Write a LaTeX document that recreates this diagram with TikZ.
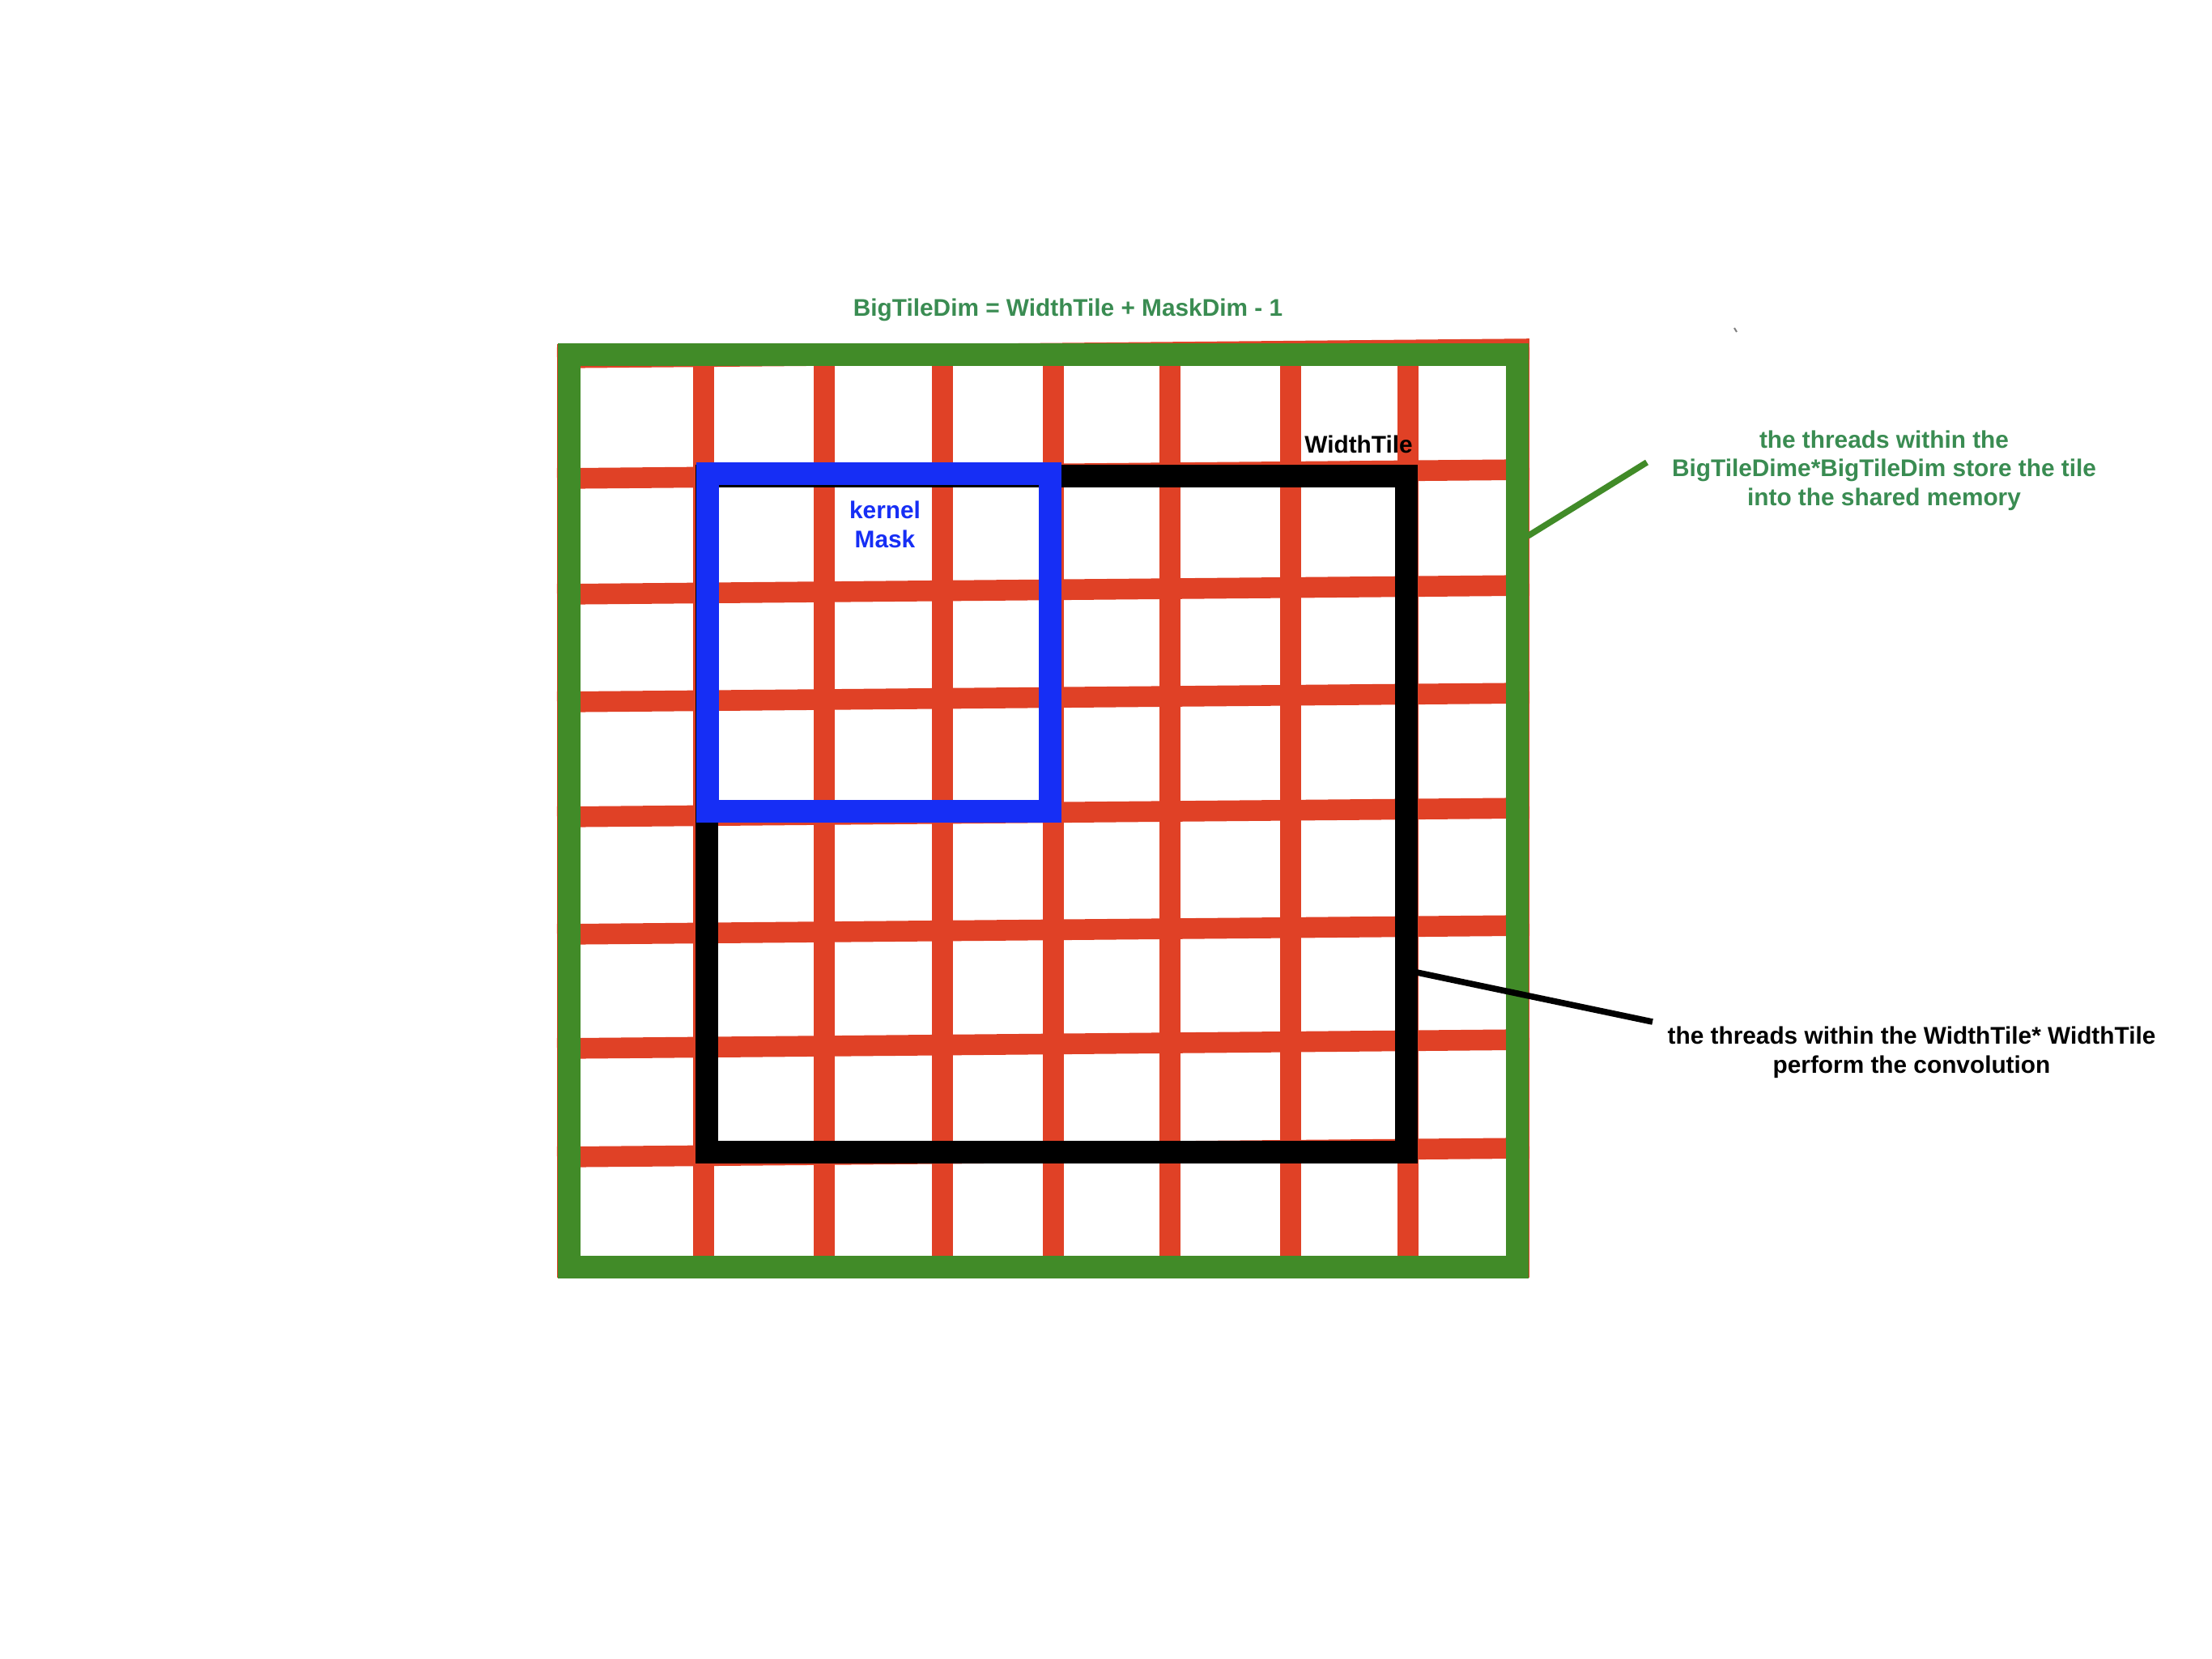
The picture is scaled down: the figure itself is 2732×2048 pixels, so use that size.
\documentclass[tikz,border=0pt]{standalone}
\usepackage{fontspec}
\setmainfont{Liberation Sans}
\definecolor{gridred}{RGB}{224,65,38}
\definecolor{framegreen}{RGB}{65,139,40}
\definecolor{maskblue}{RGB}{22,46,245}
\definecolor{notegreen}{RGB}{58,140,82}
\tikzset{
  gridline/.style={draw=gridred,line width=6.4pt},
  bigframe/.style={draw=framegreen,line width=6.8pt},
  tileframe/.style={draw=black,line width=6.8pt},
  maskframe/.style={draw=maskblue,line width=6.8pt},
  label/.style={font=\bfseries\fontsize{7.45}{8.9}\selectfont,inner sep=0pt,align=center}
}
\begin{document}
\begin{tikzpicture}[x=0.25pt,y=-0.25pt]
\useasboundingbox (0,0) rectangle (2732,2048);
\fill[white] (0,0) rectangle (2732,2048);
% Drawing the red grid
% rows
\draw[gridline] (688,442) -- (1889,431);
\draw[gridline] (688,591) -- (1889,580);
\draw[gridline] (688,734) -- (1889,723);
\draw[gridline] (688,867) -- (1889,856);
\draw[gridline] (688,1009) -- (1889,998);
\draw[gridline] (688,1154) -- (1889,1143);
\draw[gridline] (688,1295) -- (1889,1284);
\draw[gridline] (688,1429) -- (1889,1418);
% columns
\draw[gridline] (701,425) -- (701,1578);
\draw[gridline] (869,438) -- (869,1565);
\draw[gridline] (1018,438) -- (1018,1565);
\draw[gridline] (1164,438) -- (1164,1565);
\draw[gridline] (1301,438) -- (1301,1565);
\draw[gridline] (1445,438) -- (1445,1565);
\draw[gridline] (1594,438) -- (1594,1565);
\draw[gridline] (1739,438) -- (1739,1565);
\draw[gridline] (1876,425) -- (1876,1578);
% Done with grid; drawing frames
\draw[bigframe] (703,438) rectangle (1874,1565);
\draw[tileframe] (873,588) rectangle (1737,1423);
\draw[maskframe] (874,585) rectangle (1297,1002);
% Drawing labels
\node[label,text=notegreen,anchor=base] (bigtitle) at (1319,390) {BigTileDim = WidthTile + MaskDim - 1};
\node[label,text=black,anchor=base] (tilelabel) at (1678,559) {WidthTile};
\node[label,text=maskblue] (masklabel) at (1093,648) {kernel\\Mask};
\node[label,text=notegreen] (bignote) at (2327,581) {the threads within the\\BigTileDime*BigTileDim store the tile\\into the shared memory};
\node[label,text=black] (tilenote) at (2361,1300) {the threads within the WidthTile* WidthTile\\perform the convolution};
% Drawing pointers
\coordinate (bigfoot) at (1887,662);
\coordinate (bigtip) at (2034,571);
\draw[framegreen,line width=1.9pt] (bigfoot) -- (bigtip);
\coordinate (tilefoot) at (1750,1201);
\coordinate (tiletip) at (2041,1262);
\draw[black,line width=1.9pt] (tilefoot) -- (tiletip);
% stray mark
\draw[gray,line width=0.5pt] (2142,405) -- (2145,410);
\end{tikzpicture}
\end{document}
